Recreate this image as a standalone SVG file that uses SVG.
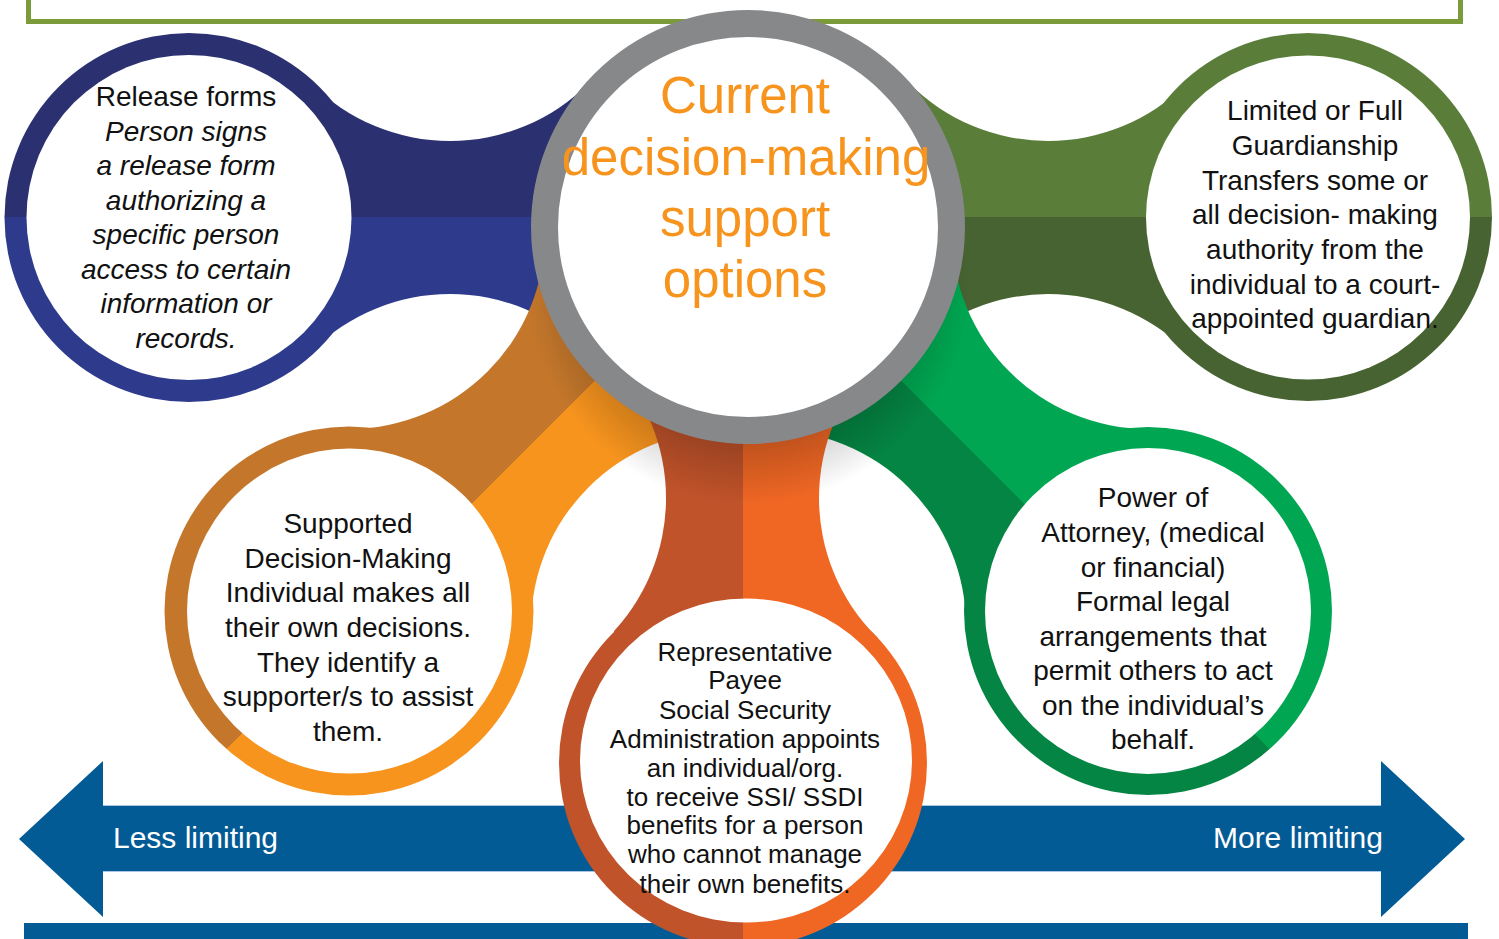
<svg xmlns="http://www.w3.org/2000/svg" width="1499" height="939" viewBox="0 0 1499 939">
<defs>
<style>
.t{font-family:"Liberation Sans",Arial,sans-serif;font-size:28px;fill:#111;text-anchor:middle}
.it{font-style:italic}
.p{font-family:"Liberation Sans",Arial,sans-serif;font-size:26px;fill:#111;text-anchor:middle}
.title{font-family:"Liberation Sans",Arial,sans-serif;font-size:51px;fill:#f7941d;text-anchor:middle}
.ar{font-family:"Liberation Sans",Arial,sans-serif;font-size:30px;fill:#fff}
.hole{fill:#000}
.band{fill:#fff}
.inner{fill:#fff}
</style>
<radialGradient id="shadow">
<stop offset="0.7" stop-color="#000" stop-opacity="0.22"/>
<stop offset="1" stop-color="#000" stop-opacity="0"/>
</radialGradient>
<linearGradient id="gBlue" gradientUnits="userSpaceOnUse" x1="0" y1="216" x2="0" y2="218">
<stop offset="0.5" stop-color="#2b3070"/><stop offset="0.5" stop-color="#2e3b8d"/>
</linearGradient>
<linearGradient id="gGreenTop" gradientUnits="userSpaceOnUse" x1="0" y1="216" x2="0" y2="218">
<stop offset="0.5" stop-color="#5a7e3a"/><stop offset="0.5" stop-color="#476331"/>
</linearGradient>
<linearGradient id="gRed" gradientUnits="userSpaceOnUse" x1="742" y1="0" x2="744" y2="0">
<stop offset="0.5" stop-color="#c1532a"/><stop offset="0.5" stop-color="#f06724"/>
</linearGradient>
<linearGradient id="gOrange" gradientUnits="userSpaceOnUse" x1="747.3" y1="226.3" x2="748.7" y2="227.7">
<stop offset="0.5" stop-color="#c4772b"/><stop offset="0.5" stop-color="#f7941e"/>
</linearGradient>
<linearGradient id="gGreenBot" gradientUnits="userSpaceOnUse" x1="747.3" y1="227.7" x2="748.7" y2="226.3">
<stop offset="0.5" stop-color="#048543"/><stop offset="0.5" stop-color="#00a651"/>
</linearGradient>
<mask id="mBlue" maskUnits="userSpaceOnUse" x="0" y="0" width="1499" height="939">
<rect class="band" x="189" y="82" width="559" height="270"/>
<circle class="hole" cx="450" cy="-55" r="196"/>
<circle class="hole" cx="450" cy="490" r="196"/>
</mask>
<mask id="mGreenTop" maskUnits="userSpaceOnUse" x="0" y="0" width="1499" height="939">
<rect class="band" x="748" y="82" width="560" height="270"/>
<circle class="hole" cx="1048" cy="-55" r="196"/>
<circle class="hole" cx="1048" cy="490" r="196"/>
</mask>
<mask id="mOrange" maskUnits="userSpaceOnUse" x="0" y="0" width="1499" height="939">
<polygon class="band" points="658,133 838,321 439,705 259,517"/>
<circle class="hole" cx="727" cy="626" r="196"/>
<circle class="hole" cx="349" cy="233" r="196"/>
</mask>
<mask id="mGreenBot" maskUnits="userSpaceOnUse" x="0" y="0" width="1499" height="939">
<polygon class="band" points="838,133 1238,517 1058,705 658,321"/>
<circle class="hole" cx="1148" cy="233" r="196"/>
<circle class="hole" cx="770" cy="626" r="196"/>
</mask>
<mask id="mRed" maskUnits="userSpaceOnUse" x="0" y="0" width="1499" height="939">
<rect class="band" x="614" y="227" width="264" height="536"/>
<circle class="hole" cx="470" cy="498" r="196"/>
<circle class="hole" cx="1015" cy="498" r="196"/>
</mask>
</defs>

<rect width="1499" height="939" fill="#fff"/>

<rect id="frame" x="28.5" y="-20" width="1432" height="41.5" fill="none" stroke="#7b9a3a" stroke-width="5"/>

<g id="scale-arrow">
<polygon points="19,839 103,761 103,805 1381,805 1381,761 1465,839 1381,917 1381,872 103,872 103,917" fill="#035b96"/>
<line x1="103" y1="805.5" x2="1381" y2="805.5" stroke="#a9c6e2" stroke-width="1.2"/>
<line x1="103" y1="871.5" x2="1381" y2="871.5" stroke="#a9c6e2" stroke-width="1.2"/>
<text class="ar" x="113" y="848">Less limiting</text>
<text class="ar" x="1383" y="848" text-anchor="end">More limiting</text>
</g>
<rect id="bottom-bar" x="24" y="923" width="1444" height="16" fill="#035b96"/>

<g id="connectors">
<rect x="0" y="0" width="1499" height="939" fill="url(#gBlue)" mask="url(#mBlue)"/>
<rect x="0" y="0" width="1499" height="939" fill="url(#gGreenTop)" mask="url(#mGreenTop)"/>
<rect x="0" y="0" width="1499" height="939" fill="url(#gOrange)" mask="url(#mOrange)"/>
<rect x="0" y="0" width="1499" height="939" fill="url(#gGreenBot)" mask="url(#mGreenBot)"/>
<rect x="0" y="0" width="1499" height="939" fill="url(#gRed)" mask="url(#mRed)"/>
</g>

<ellipse id="center-shadow" cx="748" cy="280" rx="222" ry="225" fill="url(#shadow)"/>

<g id="node-release">
<circle cx="189" cy="217.5" r="184.5" fill="url(#gBlue)"/>
<circle class="inner" cx="189" cy="217.5" r="162.5"/>
<text class="t" x="186" y="106">Release forms</text>
<text class="t it" x="186" y="140.5">Person signs</text>
<text class="t it" x="186" y="175">a release form</text>
<text class="t it" x="186" y="209.5">authorizing a</text>
<text class="t it" x="186" y="244">specific person</text>
<text class="t it" x="186" y="278.5">access to certain</text>
<text class="t it" x="186" y="313">information or</text>
<text class="t it" x="186" y="347.5">records.</text>
</g>

<g id="node-guardianship">
<circle cx="1308" cy="217" r="184" fill="url(#gGreenTop)"/>
<circle class="inner" cx="1308" cy="217.5" r="162"/>
<text class="t" x="1315" y="120">Limited or Full</text>
<text class="t" x="1315" y="155">Guardianship</text>
<text class="t" x="1315" y="190">Transfers some or</text>
<text class="t" x="1315" y="224">all decision- making</text>
<text class="t" x="1315" y="259">authority from the</text>
<text class="t" x="1315" y="294">individual to a court-</text>
<text class="t" x="1315" y="328">appointed guardian.</text>
</g>

<g id="node-supported">
<circle cx="349" cy="611" r="184.5" fill="url(#gOrange)"/>
<circle class="inner" cx="349.5" cy="611" r="162.5"/>
<text class="t" x="348" y="533">Supported</text>
<text class="t" x="348" y="567.5">Decision-Making</text>
<text class="t" x="348" y="602">Individual makes all</text>
<text class="t" x="348" y="637">their own decisions.</text>
<text class="t" x="348" y="671.5">They identify a</text>
<text class="t" x="348" y="706">supporter/s to assist</text>
<text class="t" x="348" y="741">them.</text>
</g>

<g id="node-poa">
<circle cx="1148" cy="611" r="184" fill="url(#gGreenBot)"/>
<circle class="inner" cx="1148" cy="611" r="163"/>
<text class="t" x="1153" y="507">Power of</text>
<text class="t" x="1153" y="542">Attorney, (medical</text>
<text class="t" x="1153" y="577">or financial)</text>
<text class="t" x="1153" y="611">Formal legal</text>
<text class="t" x="1153" y="645.5">arrangements that</text>
<text class="t" x="1153" y="680">permit others to act</text>
<text class="t" x="1153" y="715">on the individual’s</text>
<text class="t" x="1153" y="749">behalf.</text>
</g>

<g id="node-payee">
<circle cx="743" cy="763" r="184" fill="url(#gRed)"/>
<ellipse class="inner" cx="746" cy="760.5" rx="166" ry="162"/>
<text class="p" x="745" y="661">Representative</text>
<text class="p" x="745" y="688.5">Payee</text>
<text class="p" x="745" y="719">Social Security</text>
<text class="p" x="745" y="748">Administration appoints</text>
<text class="p" x="745" y="776.5">an individual/org.</text>
<text class="p" x="745" y="805.5">to receive SSI/ SSDI</text>
<text class="p" x="745" y="834">benefits for a person</text>
<text class="p" x="745" y="863">who cannot manage</text>
<text class="p" x="745" y="892.5">their own benefits.</text>
</g>

<g id="node-center">
<circle cx="748" cy="227" r="203.5" fill="#fff" stroke="#87888a" stroke-width="27"/>
<text class="title" x="745" y="113">Current</text>
<text class="title" x="746" y="175">decision-making</text>
<text class="title" x="745" y="236">support</text>
<text class="title" x="745" y="297">options</text>
</g>
</svg>
